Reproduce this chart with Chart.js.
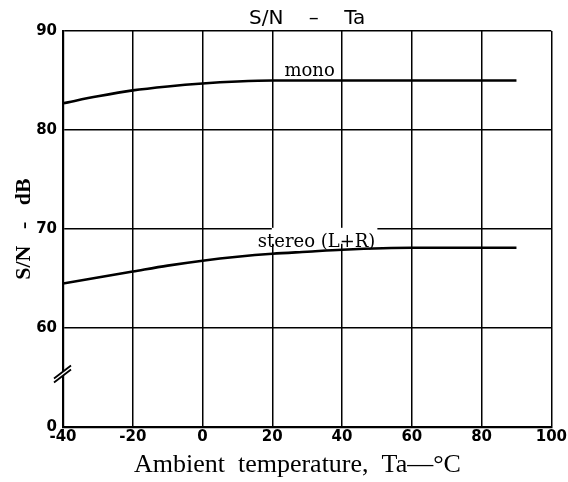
<!DOCTYPE html>
<html>
<head>
<meta charset="utf-8">
<script src="https://cdn.jsdelivr.net/npm/chart.js@4/dist/chart.umd.min.js"></script>
<style>
  html, body { margin: 0; padding: 0; background: #fff; }
  #wrap { width: 568px; height: 482px; }
</style>
</head>
<body>
<div id="wrap"><canvas id="snChart"></canvas></div>
<script>
// temperatures (deg C) and S/N readings (dB); 50 on the axis stands for the broken "0"
const monoTemps = [-40, -30, -20, -10, 0, 10, 20, 40, 60, 90];
const monoSN = [82.7, 83.4, 84.0, 84.4, 84.7, 84.9, 85.0, 85.0, 85.0, 85.0];
const stereoTemps = [-40, -30, -20, -10, 0, 10, 20, 30, 40, 60, 90];
const stereoSN = [64.5, 65.1, 65.7, 66.3, 66.8, 67.2, 67.5, 67.7, 67.9, 68.1, 68.1];
const xTicks = [-40, -20, 0, 20, 40, 60, 80, 100];
const yTicks = [50, 60, 70, 80, 90];
const yTickLabels = ["0", "60", "70", "80", "90"];
const curveLabels = [
    { text: "mono", x: 30.7, y: 85.45 },
    { text: "stereo (L+R)", x: 32.7, y: 68.2 }
];

function toPoints(xs, ys) {
    return xs.map((x, i) => ({ x: x, y: ys[i] }));
}

// inline curve labels + the break mark on the y axis
const annotatePlugin = {
    id: "annotate",
    afterDatasetsDraw(chart) {
        const ctx = chart.ctx;
        const xs = chart.scales.x;
        const ys = chart.scales.y;
        ctx.save();
        ctx.font = "18px 'DejaVu Serif'";
        ctx.textAlign = "center";
        ctx.textBaseline = "alphabetic";
        curveLabels.forEach(l => {
            const px = xs.getPixelForValue(l.x);
            const py = ys.getPixelForValue(l.y);
            const w = ctx.measureText(l.text).width;
            if (l.text.startsWith("stereo")) {
                ctx.fillStyle = "#fff";
                ctx.fillRect(px - w / 2 + 14, py - 19, w - 12, 16);
            }
            ctx.fillStyle = "#000";
            ctx.fillText(l.text, px, py);
        });

        // axis break
        const bx = xs.left;
        const by = ys.getPixelForValue(55.6);
        ctx.fillStyle = "#fff";
        ctx.beginPath();
        ctx.moveTo(bx - 8, by + 6);
        ctx.lineTo(bx + 8, by - 6);
        ctx.lineTo(bx + 8, by - 2);
        ctx.lineTo(bx - 8, by + 10);
        ctx.closePath();
        ctx.fill();
        ctx.strokeStyle = "#000";
        ctx.lineWidth = 1.8;
        ctx.beginPath();
        ctx.moveTo(bx - 9, by + 7);
        ctx.lineTo(bx + 8, by - 6);
        ctx.moveTo(bx - 9, by + 11);
        ctx.lineTo(bx + 8, by - 2);
        ctx.stroke();
        ctx.restore();
    }
};

new Chart(document.getElementById("snChart"), {
    type: "line",
    data: {
        datasets: [
            {
                label: "mono",
                data: toPoints(monoTemps, monoSN),
                borderColor: "#000",
                borderWidth: 2.6,
                pointRadius: 0,
                cubicInterpolationMode: "monotone",
                fill: false
            },
            {
                label: "stereo (L+R)",
                data: toPoints(stereoTemps, stereoSN),
                borderColor: "#000",
                borderWidth: 2.6,
                pointRadius: 0,
                cubicInterpolationMode: "monotone",
                fill: false
            }
        ]
    },
    options: {
        responsive: true,
        maintainAspectRatio: false,
        animation: false,
        layout: { padding: { left: 0, right: 16, top: 0, bottom: 0 } },
        plugins: {
            legend: { display: false },
            tooltip: { enabled: false },
            title: {
                display: true,
                text: "S/N    \u2013    Ta",
                fullSize: false,
                color: "#000",
                font: { family: "'DejaVu Sans'", size: 20, weight: "normal" },
                padding: { top: 7, bottom: 0 }
            }
        },
        scales: {
            x: {
                type: "linear",
                min: -40,
                max: 100,
                afterBuildTicks: s => { s.ticks = xTicks.map(v => ({ value: v })); },
                afterFit: s => { s.height = 55; },
                ticks: {
                    color: "#000",
                    padding: 1,
                    maxRotation: 0,
                    font: { family: "'DejaVu Sans'", size: 15, weight: "bold" }
                },
                grid: { color: "#000", lineWidth: 1.5, drawTicks: false },
                border: { display: true, color: "#000", width: 2.2 },
                title: {
                    display: true,
                    text: "Ambient  temperature,  Ta\u2014\u00b0C   ",
                    color: "#000",
                    font: { family: "'Liberation Serif'", size: 26 },
                    padding: { top: 0, bottom: 1 }
                }
            },
            y: {
                type: "linear",
                min: 50,
                max: 90,
                afterBuildTicks: s => { s.ticks = yTicks.map(v => ({ value: v })); },
                afterFit: s => { s.width = 63; },
                ticks: {
                    color: "#000",
                    padding: 6,
                    font: { family: "'DejaVu Sans'", size: 15, weight: "bold" },
                    callback: v => yTickLabels[yTicks.indexOf(v)]
                },
                grid: { color: "#000", lineWidth: 1.5, drawTicks: false },
                border: { display: true, color: "#000", width: 2.2 },
                title: {
                    display: true,
                    text: "S/N   -   dB",
                    color: "#000",
                    font: { family: "'Liberation Serif'", size: 22, weight: "bold" },
                    padding: { top: 11, bottom: 0 }
                }
            }
        }
    },
    plugins: [annotatePlugin]
});
</script>
</body>
</html>
